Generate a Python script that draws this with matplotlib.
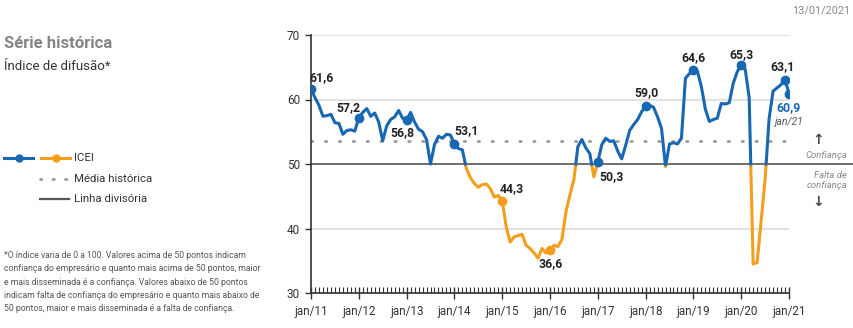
import matplotlib
matplotlib.use("Agg")
import matplotlib.pyplot as plt
import numpy as np
from matplotlib.lines import Line2D

plt.rcParams['font.family'] = ['Roboto', 'DejaVu Sans']

# ICEI monthly, jan/11 .. jan/21
icei_2011 = [61.6, 60.3, 59.1, 57.4, 57.5, 57.7, 56.4, 56.3, 54.6, 55.2, 55.3, 55.1]
icei_2012 = [57.2, 58.0, 58.6, 57.4, 57.9, 56.5, 53.6, 55.9, 56.9, 57.3, 58.3, 57.1]
icei_2013 = [56.8, 58.0, 56.5, 55.4, 55.0, 53.8, 50.0, 53.0, 54.3, 54.0, 54.6, 54.5]
icei_2014 = [53.1, 52.4, 52.2, 49.3, 47.9, 47.0, 46.4, 46.8, 46.9, 46.2, 44.9, 45.1]
icei_2015 = [44.3, 40.3, 37.9, 38.7, 38.9, 39.1, 37.4, 36.9, 36.2, 35.4, 36.9, 36.2]
icei_2016 = [36.6, 37.4, 37.2, 38.3, 42.6, 45.2, 47.6, 52.7, 53.8, 52.5, 51.6, 48.0]
icei_2017 = [50.3, 53.0, 54.0, 53.5, 53.6, 52.0, 50.8, 52.9, 55.2, 56.1, 56.9, 58.1]
icei_2018 = [59.0, 59.1, 58.8, 57.3, 55.5, 49.6, 53.1, 53.3, 53.1, 54.0, 63.3, 64.0]
icei_2019 = [64.6, 64.4, 62.0, 58.5, 56.6, 56.9, 57.1, 59.4, 59.3, 59.5, 62.5, 64.3]
icei_2020 = [65.3, 64.7, 60.3, 34.5, 34.7, 41.2, 47.6, 57.0, 61.3, 61.8, 62.3, 63.1]
icei_2021 = [60.9]
icei = (icei_2011 + icei_2012 + icei_2013 + icei_2014 + icei_2015 + icei_2016
        + icei_2017 + icei_2018 + icei_2019 + icei_2020 + icei_2021)

tick_labels = ['jan/11', 'jan/12', 'jan/13', 'jan/14', 'jan/15', 'jan/16',
               'jan/17', 'jan/18', 'jan/19', 'jan/20', 'jan/21']
media_historica = 53.6
linha_divisoria = 50

# highlighted points: month index -> label offset in pixels
destaques = {0: (10, 12), 12: (-10, 10), 24: (-4, -12), 36: (12, 13),
             48: (10, 12), 60: (1, -13), 72: (14, -15), 84: (1, 13),
             96: (0, 12), 108: (0, 11), 119: (-2, 13), 120: (0, -14)}

BLUE = '#1767b2'
ORANGE = '#f59e1b'
DARK = '#555555'

x = np.arange(len(icei), dtype=float)
y = np.array(icei, dtype=float)

# insert crossing points at the 50 line so colours split cleanly
xs, ys = [x[0]], [y[0]]
for i in range(1, len(y)):
    a, b = y[i - 1] - linha_divisoria, y[i] - linha_divisoria
    if a * b < 0:
        t = a / (a - b)
        xs.append(x[i - 1] + t)
        ys.append(linha_divisoria)
    xs.append(x[i])
    ys.append(y[i])
xs = np.array(xs)
ys = np.array(ys)
y_blue = np.where(ys >= linha_divisoria, ys, np.nan)
y_orange = np.where(ys <= linha_divisoria, ys, np.nan)

fig = plt.figure(figsize=(8.54, 3.28), dpi=100)
ax = fig.add_axes([311 / 854, 35 / 328, 478 / 854, 258 / 328])

for g in [40, 60, 70]:
    ax.axhline(g, color='#dcdcdc', lw=1.2, zorder=0)
ax.axhline(media_historica, color='#999999', lw=2, ls=(0, (0.5, 4.5)),
           dash_capstyle='round', zorder=1)
ax.add_line(Line2D([0, 543 / 478], [0.5, 0.5], transform=ax.transAxes,
                   color=DARK, lw=1.2, clip_on=False, zorder=1))

ax.plot(xs, y_orange, color=ORANGE, lw=2.2, solid_joinstyle='round', zorder=3)
ax.plot(xs, y_blue, color=BLUE, lw=2.2, solid_joinstyle='round', zorder=3)

for i, (dx, dy) in destaques.items():
    c = BLUE if icei[i] >= linha_divisoria else ORANGE
    ax.plot(i, icei[i], 'o', color=c, ms=6, zorder=4)
    txt = f"{icei[i]:.1f}".replace('.', ',')
    tc = BLUE if i == len(icei) - 1 else '#222222'
    ax.annotate(txt, (i, icei[i]), xytext=(dx, dy), textcoords='offset pixels',
                ha='center', va='center', fontsize=8.8, fontweight='bold', color=tc)
ax.annotate('jan/21', (len(icei) - 1, icei[-1]), xytext=(0, -28),
            textcoords='offset pixels', ha='center', va='center',
            fontsize=7.5, style='italic', color='#555555')

ax.set_xlim(0, 120)
ax.set_ylim(30, 70)
ax.set_xticks(np.arange(0, 121, 12))
ax.set_xticklabels(tick_labels)
ax.set_xticks(np.arange(0, 121, 1), minor=True)
ax.set_yticks([30, 40, 50, 60, 70])
for s in ['top', 'right']:
    ax.spines[s].set_visible(False)
for s in ['left', 'bottom']:
    ax.spines[s].set_color('#333333')
    ax.spines[s].set_linewidth(1.2)
ax.tick_params(axis='x', which='major', direction='inout', length=8, width=1,
               color='#333333', labelsize=8.4, labelcolor='#333333', pad=5)
ax.tick_params(axis='x', which='minor', direction='in', length=4, width=0.8,
               color='#333333')
ax.tick_params(axis='y', direction='out', length=4, width=1, color='#333333',
               labelsize=8.5, labelcolor='#333333', pad=4)

# right side notes
fig.text(818 / 854, 1 - 140 / 328, '↑', ha='center', va='center', fontsize=10,
         fontweight='bold', color='#444444', family='DejaVu Sans')
fig.text(847 / 854, 1 - 155 / 328, 'Confiança', ha='right', va='center',
         fontsize=6.8, style='italic', color='#888888')
fig.text(847 / 854, 1 - 176 / 328, 'Falta de', ha='right', va='center',
         fontsize=6.8, style='italic', color='#888888')
fig.text(847 / 854, 1 - 186 / 328, 'confiança', ha='right', va='center',
         fontsize=6.8, style='italic', color='#888888')
fig.text(818 / 854, 1 - 202 / 328, '↓', ha='center', va='center', fontsize=10,
         fontweight='bold', color='#444444', family='DejaVu Sans')

fig.text(850 / 854, 1 - 11 / 328, '13/01/2021', ha='right', va='center',
         fontsize=7.8, color='#888888')

# left panel
fig.text(4 / 854, 1 - 43 / 328, 'Série histórica', ha='left', va='center',
         fontsize=12, fontweight='bold', color='#858585')
fig.text(4 / 854, 1 - 66 / 328, 'Índice de difusão*', ha='left', va='center',
         fontsize=9.5, color='#333333')

def fy(py):
    return 1 - py / 328

fig.add_artist(Line2D([4 / 854, 33 / 854], [fy(158)] * 2, color=BLUE, lw=2.2))
fig.add_artist(Line2D([19 / 854], [fy(158)], marker='o', color=BLUE, ms=5))
fig.add_artist(Line2D([41 / 854, 70 / 854], [fy(158)] * 2, color=ORANGE, lw=2.2))
fig.add_artist(Line2D([56 / 854], [fy(158)], marker='o', color=ORANGE, ms=5))
fig.add_artist(Line2D([40 / 854, 69 / 854], [fy(179)] * 2, color='#999999', lw=2,
                      ls=(0, (0.5, 4)), dash_capstyle='round'))
fig.add_artist(Line2D([40 / 854, 69 / 854], [fy(199)] * 2, color=DARK, lw=1.6))
fig.text(74 / 854, fy(158), 'ICEI', ha='left', va='center', fontsize=8.2, color='#333333')
fig.text(74 / 854, fy(179), 'Média histórica', ha='left', va='center', fontsize=8.2,
         color='#333333')
fig.text(74 / 854, fy(199), 'Linha divisória', ha='left', va='center', fontsize=8.2,
         color='#333333')

nota = ("*O índice varia de 0 a 100. Valores acima de 50 pontos indicam\n"
        "confiança do empresário e quanto mais acima de 50 pontos, maior\n"
        "e mais disseminada é a confiança. Valores abaixo de 50 pontos\n"
        "indicam falta de confiança do empresário e quanto mais abaixo de\n"
        "50 pontos, maior e mais disseminada é a falta de confiança.")
fig.text(4 / 854, fy(251), nota, ha='left', va='top', fontsize=6.2,
         color='#555555', linespacing=1.62)

fig.savefig('out.png', dpi=100)
